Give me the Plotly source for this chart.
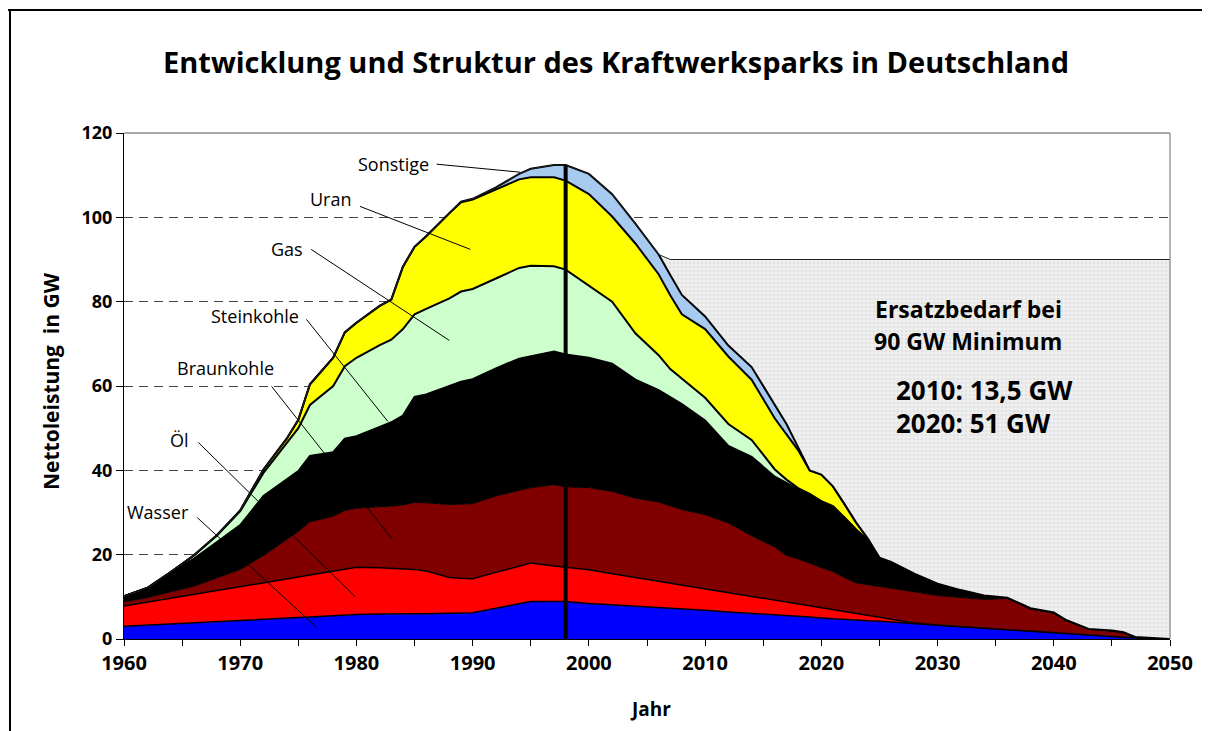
import numpy as np
import plotly.graph_objects as go

# ---------------- data (GW) ----------------
years = [1960, 1962, 1964, 1966, 1968, 1970, 1972, 1974, 1975, 1976,
         1978, 1979, 1980, 1982, 1983, 1984, 1985, 1986, 1988, 1989,
         1990, 1992, 1994, 1995, 1997, 1998, 2000, 2002, 2004, 2006,
         2007, 2008, 2010, 2012, 2014, 2016, 2017, 2018, 2019, 2020, 2021,
         2022, 2023, 2024, 2025, 2026, 2028, 2030, 2032, 2034, 2036,
         2038, 2040, 2041, 2043, 2045, 2046, 2047, 2050]

wasser = [3.0, 3.3, 3.6, 3.8, 4.1, 4.4, 4.7, 5.0, 5.1, 5.2,
          5.5, 5.7, 5.8, 5.9, 5.9, 6.0, 6.0, 6.0, 6.1, 6.1,
          6.2, 7.3, 8.4, 8.9, 8.9, 8.9, 8.4, 8.1, 7.7, 7.4,
          7.3, 7.1, 6.8, 6.4, 6.1, 5.7, 5.5, 5.4, 5.2, 5.0, 4.8,
          4.7, 4.5, 4.3, 4.2, 4.0, 3.6, 3.3, 2.9, 2.6, 2.2,
          1.9, 1.5, 1.3, 1.0, 0.6, 0.4, 0.3, 0.0]

oel = [4.8, 5.4, 6.0, 6.8, 7.4, 8.0, 8.6, 9.2, 9.6, 10.0,
       10.6, 10.8, 11.2, 11.0, 10.9, 10.7, 10.5, 10.1, 8.5, 8.3,
       8.1, 8.5, 8.9, 9.1, 8.4, 8.1, 8.0, 7.4, 6.9, 6.3,
       6.0, 5.7, 5.1, 4.6, 4.0, 3.5, 3.3, 2.9, 2.7, 2.4, 2.2,
       1.9, 1.6, 1.4, 1.0, 0.8, 0.2, 0.0, 0.0, 0.0, 0.0,
       0.0, 0.0, 0.0, 0.0, 0.0, 0.0, 0.0, 0.0]

braunkohle = [1.0, 1.1, 1.6, 1.9, 3.0, 4.1, 6.5, 9.3, 10.8, 12.6,
              13.0, 14.0, 14.0, 14.5, 14.7, 15.1, 15.9, 16.2, 17.3, 17.6,
              17.8, 18.1, 18.0, 17.9, 19.3, 19.1, 19.5, 19.5, 18.8, 18.8,
              18.3, 17.9, 17.6, 16.5, 14.4, 12.6, 11.0, 10.7, 10.1, 9.5, 9.0,
              7.9, 7.2, 7.2, 7.3, 7.3, 7.4, 7.0, 6.9, 6.8, 7.4,
              5.4, 4.8, 3.3, 1.4, 1.4, 1.2, 0.2, 0.0]

steinkohle = [1.3, 2.3, 4.6, 6.5, 8.5, 10.5, 14.1, 14.3, 14.3, 15.6,
              15.2, 17.0, 17.1, 18.9, 19.9, 21.2, 25.0, 25.7, 28.1, 29.0,
              29.5, 30.3, 31.2, 31.2, 31.6, 31.4, 30.8, 30.3, 28.1, 26.5,
              25.8, 25.0, 22.3, 18.3, 18.7, 16.7, 17.2, 16.5, 16.4, 15.8, 15.5,
              14.3, 12.7, 10.6, 6.8, 6.2, 4.3, 2.8, 1.8, 0.9, 0.2,
              0.0, 0.0, 0.0, 0.0, 0.0, 0.0, 0.0, 0.0]

gas = [0.0, 0.0, 0.0, 0.8, 1.6, 3.3, 5.5, 8.7, 10.2, 12.1,
       15.7, 17.2, 18.6, 19.4, 19.6, 20.5, 19.6, 20.3, 20.8, 21.4,
       21.4, 21.3, 21.5, 21.4, 20.2, 20.1, 17.1, 14.7, 11.0, 8.3,
       6.6, 6.1, 5.4, 5.2, 4.0, 1.7, 0.8, 0.3, 0.0, 0.0, 0.0,
       0.0, 0.0, 0.0, 0.0, 0.0, 0.0, 0.0, 0.0, 0.0, 0.0,
       0.0, 0.0, 0.0, 0.0, 0.0, 0.0, 0.0, 0.0]

uran = [0.0, 0.0, 0.0, 0.0, 0.0, 0.2, 0.8, 1.0, 2.0, 4.9,
        6.7, 8.0, 8.3, 9.3, 9.5, 14.8, 16.0, 17.2, 20.2, 21.2,
        21.2, 21.1, 21.0, 21.0, 21.1, 21.1, 21.7, 20.2, 21.3, 19.2,
        17.5, 15.2, 16.3, 16.0, 14.3, 12.1, 10.7, 9.0, 5.6, 6.3, 4.7,
        3.2, 1.6, 0.3, 0.0, 0.0, 0.0, 0.0, 0.0, 0.0, 0.0,
        0.0, 0.0, 0.0, 0.0, 0.0, 0.0, 0.0, 0.0]

sonstige = [0.0, 0.0, 0.0, 0.0, 0.0, 0.0, 0.0, 0.0, 0.0, 0.0,
            0.0, 0.0, 0.0, 0.0, 0.0, 0.0, 0.0, 0.0, 0.0, 0.1,
            0.2, 0.5, 1.3, 2.0, 2.9, 3.7, 4.8, 5.3, 4.7, 4.7,
            4.8, 4.6, 3.0, 2.6, 3.0, 3.2, 2.5, 0.7, 0.0, 0.0, 0.0,
            0.0, 0.0, 0.0, 0.0, 0.0, 0.0, 0.0, 0.0, 0.0, 0.0,
            0.0, 0.0, 0.0, 0.0, 0.0, 0.0, 0.0, 0.0]

MIN_DEMAND = 90          # GW minimum capacity
REF_YEAR = 1998          # vertical marker year (replacement need counted after it)

x_tick_vals = list(range(1960, 2051, 5))
x_tick_text = [str(v) if v % 10 == 0 else "" for v in x_tick_vals]

# ---------------- geometry ----------------
OFF = 8                      # default page body margin
W, H = 1202, 723             # figure size so that it fits in the 1210x731 window
L = 124 - OFF                # plot left  (screen 124)
T = 133 - OFF                # plot top   (screen 133)
R = W - (1170 - OFF)         # plot right (screen 1170)
B = H - (639 - OFF)          # plot bottom(screen 639)
PW, PH = W - L - R, H - T - B


def px(sx):
    """screen x -> paper x"""
    return (sx - OFF - L) / PW


def py(sy):
    """screen y -> paper y"""
    return (H - B - (sy - OFF)) / PH


FONT = "Open Sans"
fig = go.Figure()

layers = [
    ("Wasser", wasser, "#0000FF", 1.5),
    ("Öl", oel, "#FF0000", 1.5),
    ("Braunkohle", braunkohle, "#800000", 1.0),
    ("Steinkohle", steinkohle, "#000000", 2.0),
    ("Gas", gas, "#CCFFCC", 2.0),
    ("Uran", uran, "#FFFF00", 2.0),
    ("Sonstige", sonstige, "#A6CAF0", 2.0),
]
for name, vals, col, lw in layers:
    fig.add_trace(go.Scatter(
        x=years, y=vals, name=name, mode="lines", stackgroup="kw",
        line=dict(color="black", width=lw), fillcolor=col,
        hoverinfo="skip"))

total = np.sum([np.array(v) for _, v, _, _ in layers], axis=0)
after = np.array(years) >= REF_YEAR
ersatz = np.where(after, np.maximum(MIN_DEMAND - total, 0), 0)
fig.add_trace(go.Scatter(
    x=years, y=ersatz, name="Ersatzbedarf", mode="lines", stackgroup="kw",
    line=dict(color="#222222", width=1), fillcolor="#EEEEEE",
    fillpattern=dict(shape=".", bgcolor="#F0F0F0", fgcolor="#D4D4D4",
                     size=4, solidity=0.45),
    hoverinfo="skip"))

ref_total = float(total[years.index(REF_YEAR)])

shapes = []
# plot-area top / right border (grey)
shapes.append(dict(type="line", xref="paper", yref="paper", x0=0, x1=1, y0=1, y1=1,
                   line=dict(color="#8C8C8C", width=1.3), layer="above"))
shapes.append(dict(type="line", xref="paper", yref="paper", x0=1, x1=1, y0=0, y1=1,
                   line=dict(color="#8C8C8C", width=1.3), layer="above"))
# vertical marker
shapes.append(dict(type="line", xref="x", yref="y", x0=REF_YEAR, x1=REF_YEAR,
                   y0=0, y1=ref_total, line=dict(color="black", width=4), layer="above"))
# outer frame
shapes.append(dict(type="line", xref="paper", yref="paper", x0=px(6), x1=px(1206),
                   y0=py(10), y1=py(10), line=dict(color="black", width=2)))
shapes.append(dict(type="line", xref="paper", yref="paper", x0=px(10), x1=px(10),
                   y0=py(10), y1=py(731), line=dict(color="black", width=2)))
shapes.append(dict(type="line", xref="paper", yref="paper", x0=px(1205), x1=px(1205),
                   y0=py(10), y1=py(650), line=dict(color="black", width=2)))

# label pointer lines (start near label, end inside area), in data units
pointers = [
    ((1986.9, 112.6), (1994.1, 110.7)),   # Sonstige
    ((1980.3, 102.6), (1989.8, 92.4)),    # Uran
    ((1976.1, 92.4), (1988.0, 70.8)),     # Gas
    ((1975.7, 75.8), (1982.7, 51.6)),     # Steinkohle
    ((1972.7, 59.9), (1983.1, 23.6)),     # Braunkohle
    ((1966.4, 46.6), (1979.9, 10.0)),     # Öl
    ((1966.3, 28.8), (1976.6, 2.7)),      # Wasser
]
for (x0, y0), (x1, y1) in pointers:
    shapes.append(dict(type="line", xref="x", yref="y", x0=x0, y0=y0, x1=x1, y1=y1,
                       line=dict(color="black", width=1), layer="above"))

labels = [
    ("Sonstige", 1983.15, 112.6),
    ("Uran", 1977.8, 104.3),
    ("Gas", 1974.0, 92.4),
    ("Steinkohle", 1971.3, 76.7),
    ("Braunkohle", 1968.7, 64.2),
    ("Öl", 1964.8, 47.1),
    ("Wasser", 1962.9, 30.2),
]
annotations = []
for txt, xx, yy in labels:
    annotations.append(dict(text=txt, x=xx, y=yy, xref="x", yref="y", showarrow=False,
                            font=dict(family=FONT, size=18, color="black"),
                            xanchor="center", yanchor="middle"))

annotations += [
    dict(text="<b>Entwicklung und Struktur des Kraftwerksparks in Deutschland</b>",
         x=px(616), y=py(62), xref="paper", yref="paper", showarrow=False,
         font=dict(family=FONT, size=29, color="black"), xanchor="center", yanchor="middle"),
    dict(text="<b>Nettoleistung&nbsp; in GW</b>", x=px(51), y=py(381), xref="paper",
         yref="paper", showarrow=False, textangle=-90,
         font=dict(family=FONT, size=21, color="black"),
         xanchor="center", yanchor="middle"),
    dict(text="<b>Jahr</b>", x=px(650), y=py(709), xref="paper", yref="paper",
         showarrow=False, font=dict(family=FONT, size=19, color="black"),
         xanchor="center", yanchor="middle"),
    dict(text="<b>Ersatzbedarf bei</b>", x=px(968), y=py(309), xref="paper", yref="paper",
         showarrow=False, font=dict(family=FONT, size=23, color="black"),
         xanchor="center", yanchor="middle"),
    dict(text="<b>90 GW Minimum</b>", x=px(968), y=py(341), xref="paper", yref="paper",
         showarrow=False, font=dict(family=FONT, size=23, color="black"),
         xanchor="center", yanchor="middle"),
    dict(text="<b>2010: 13,5 GW</b>", x=px(894), y=py(390), xref="paper", yref="paper",
         showarrow=False, font=dict(family=FONT, size=26, color="black"),
         xanchor="left", yanchor="middle"),
    dict(text="<b>2020: 51 GW</b>", x=px(894), y=py(423), xref="paper", yref="paper",
         showarrow=False, font=dict(family=FONT, size=26, color="black"),
         xanchor="left", yanchor="middle"),
]

fig.update_layout(
    width=W, height=H,
    margin=dict(l=L, r=R, t=T, b=B),
    paper_bgcolor="white", plot_bgcolor="white",
    showlegend=False,
    shapes=shapes, annotations=annotations,
    font=dict(family=FONT, color="black"),
)
fig.update_xaxes(range=[1960, 2050], tickmode="array", tickvals=x_tick_vals,
                 ticktext=x_tick_text, ticks="outside", ticklen=6, tickcolor="black",
                 tickwidth=1, showline=True, linecolor="black", linewidth=1.2,
                 showgrid=False, zeroline=False,
                 tickfont=dict(family=FONT, size=20, color="black", weight="bold"))
fig.update_yaxes(range=[0, 120], tickmode="linear", tick0=0, dtick=20,
                 ticks="outside", ticklen=7, tickcolor="black", tickwidth=1,
                 showline=True, linecolor="black", linewidth=1.2,
                 showgrid=True, gridcolor="#444444", gridwidth=1, griddash="9px,6px",
                 zeroline=False,
                 tickfont=dict(family=FONT, size=18, color="black", weight="bold"))

fig.write_html("out.html")
